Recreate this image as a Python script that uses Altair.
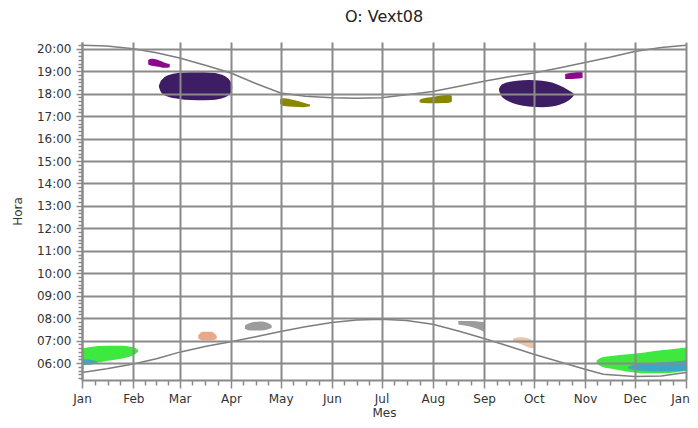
import altair as alt
import pandas as pd

TITLE = "O: Vext08"
MONTHS = ["Jan", "Feb", "Mar", "Apr", "May", "Jun", "Jul", "Aug", "Sep", "Oct", "Nov", "Dec", "Jan"]
MONTH_START = [0, 31, 59, 90, 120, 151, 181, 212, 243, 273, 304, 334, 365]

# sunset / sunrise curves (day of year, hour)
SUNSET_DAY = [0, 15, 31, 45, 59, 75, 90, 105, 120, 135, 151, 166, 181, 196, 212, 228, 243, 258, 273, 289, 304, 319, 334, 350, 365]
SUNSET_HOUR = [20.15, 20.12, 20.0, 19.82, 19.59, 19.25, 18.92, 18.45, 18.03, 17.88, 17.82, 17.8, 17.82, 17.95, 18.1, 18.33, 18.55, 18.75, 18.92, 19.15, 19.39, 19.62, 19.88, 20.05, 20.15]
SUNRISE_DAY = [0, 15, 31, 45, 59, 75, 90, 105, 120, 135, 151, 166, 181, 196, 212, 228, 243, 258, 273, 289, 304, 315, 334, 350, 365]
SUNRISE_HOUR = [5.58, 5.75, 5.96, 6.2, 6.49, 6.75, 6.95, 7.18, 7.41, 7.62, 7.81, 7.92, 7.96, 7.9, 7.73, 7.42, 7.1, 6.75, 6.4, 6.05, 5.73, 5.51, 5.41, 5.43, 5.58]

# blobs: (day, low hour, high hour)
PURPLE_FEB = [(40, 19.3, 19.5), (42, 19.24, 19.55), (46, 19.2, 19.5), (50, 19.15, 19.38), (53, 19.18, 19.32)]
DARK_MAR = [(46.5, 18.3, 18.36), (47.5, 18.1, 18.55), (49, 17.97, 18.68), (52, 17.86, 18.82), (56, 17.79, 18.9), (62, 17.73, 18.94), (70, 17.71, 18.95), (78, 17.72, 18.93), (83, 17.76, 18.88), (86.5, 17.84, 18.78), (89, 17.96, 18.62), (90.3, 18.1, 18.45), (90.8, 18.25, 18.32)]
OLIVE_MAY = [(119.7, 17.55, 17.75), (122, 17.45, 17.8), (128, 17.42, 17.72), (134, 17.4, 17.6), (137.8, 17.44, 17.52)]
OLIVE_AUG = [(204, 17.62, 17.72), (206, 17.58, 17.78), (212, 17.57, 17.85), (218, 17.58, 17.93), (222, 17.6, 17.95), (223.5, 17.65, 17.9)]
DARK_OCT = [(252, 18.15, 18.22), (253, 17.95, 18.35), (255, 17.78, 18.45), (258, 17.65, 18.52), (263, 17.52, 18.57), (270, 17.43, 18.61), (278, 17.4, 18.58), (284, 17.43, 18.5), (289, 17.52, 18.35), (293, 17.65, 18.2), (296, 17.82, 18.06), (297.2, 17.92, 17.98)]
PURPLE_NOV = [(292, 18.65, 18.88), (296, 18.65, 18.93), (300, 18.67, 18.98), (302.5, 18.7, 18.98)]
GREEN_JAN = [(0, 6.05, 6.65), (5, 6.0, 6.72), (15, 6.1, 6.78), (25, 6.22, 6.78), (30, 6.32, 6.72), (33, 6.45, 6.64), (34, 6.52, 6.58)]
GREEN_DEC = [(311, 6.0, 6.12), (314, 5.85, 6.25), (320, 5.75, 6.32), (330, 5.62, 6.4), (340, 5.55, 6.48), (350, 5.55, 6.57), (360, 5.6, 6.65), (365, 5.65, 6.7)]
PEACH_MAR = [(70.3, 7.1, 7.25), (73, 7.02, 7.4), (78, 7.02, 7.4), (81.4, 7.08, 7.22)]
GRAY_APR = [(98.5, 7.52, 7.68), (102, 7.45, 7.8), (108, 7.45, 7.85), (112, 7.5, 7.8), (114.6, 7.56, 7.68)]
GRAY_AUG = [(227.4, 7.72, 7.88), (233, 7.65, 7.88), (238, 7.55, 7.87), (243.5, 7.38, 7.82)]
PEACH_SEP = [(260.6, 6.95, 7.1), (265, 6.85, 7.15), (270, 6.7, 7.1), (273.8, 6.65, 6.88)]
CYAN_JAN = [(0, 5.92, 6.2), (5, 5.93, 6.15), (9, 5.98, 6.08)]
CYAN_DEC = [(330, 5.76, 5.84), (335, 5.68, 5.95), (345, 5.63, 6.0), (355, 5.63, 6.05), (365, 5.67, 6.12)]

BASE_BLOBS = {
    "purple_feb": (PURPLE_FEB, "#8b0a8b"),
    "dark_mar": (DARK_MAR, "#3d1e64"),
    "olive_may": (OLIVE_MAY, "#878700"),
    "olive_aug": (OLIVE_AUG, "#878700"),
    "dark_oct": (DARK_OCT, "#3d1e64"),
    "purple_nov": (PURPLE_NOV, "#8b0a8b"),
    "green_jan": (GREEN_JAN, "#3ee83e"),
    "green_dec": (GREEN_DEC, "#3ee83e"),
    "peach_mar": (PEACH_MAR, "#e9a888"),
    "gray_apr": (GRAY_APR, "#9c9c9c"),
    "gray_aug": (GRAY_AUG, "#9c9c9c"),
    "peach_sep": (PEACH_SEP, "#ecc4a8"),
}
TOP_BLOBS = {
    "cyan_jan": (CYAN_JAN, "#3aa6c8"),
    "cyan_dec": (CYAN_DEC, "#3aa6c8"),
}


def blob_frame(blobs):
    rows = []
    for name, (pts, _c) in blobs.items():
        for d, lo, hi in pts:
            rows.append({"blob": name, "day": d, "lo": lo, "hi": hi})
    return pd.DataFrame(rows)


curves = pd.DataFrame(
    [{"curve": "sunset", "day": d, "hour": h} for d, h in zip(SUNSET_DAY, SUNSET_HOUR)]
    + [{"curve": "sunrise", "day": d, "hour": h} for d, h in zip(SUNRISE_DAY, SUNRISE_HOUR)]
)

# axis ticks
x_ticks = list(MONTH_START)
for i in range(12):
    ln = MONTH_START[i + 1] - MONTH_START[i]
    for k in (1, 2, 3):
        x_ticks.append(MONTH_START[i] + k * ln / 4)
x_ticks = sorted(x_ticks)
y_ticks = [m / 6 for m in range(32, 122)]

ms = "[" + ",".join(str(v) for v in MONTH_START) + "]"
mn = "[" + ",".join("'" + m + "'" for m in MONTHS) + "]"
x_major = f"indexof({ms}, datum.value) >= 0"
x_label = f"indexof({ms}, datum.value) >= 0 ? {mn}[indexof({ms}, datum.value)] : ''"
x_last = f"datum.value == {MONTH_START[-1]}"
y_major = "abs(datum.value - round(datum.value)) < 0.001"
y_label = f"{y_major} ? (round(datum.value) < 10 ? '0' : '') + round(datum.value) + ':00' : ''"

FONT = "DejaVu Sans"
GRID = "#8a8a8a"

x_axis = alt.Axis(
    values=x_ticks, title="Mes", labelExpr=x_label,
    grid=True, gridColor=GRID, gridWidth=2,
    gridOpacity={"condition": {"test": x_major, "value": 1}, "value": 0},
    tickSize={"condition": {"test": x_major, "value": 8}, "value": 5},
    tickColor=GRID, tickWidth=1.5, domainColor=GRID, domainWidth=2,
    labelFont=FONT, labelFontSize=12, labelColor="#333333", labelPadding=5,
    labelOffset={"condition": {"test": x_last, "value": -6}, "value": 0},
    labelFlush=False, labelOverlap=False,
    titleFont=FONT, titleFontSize=12, titleFontWeight="normal", titleColor="#333333", titlePadding=3,
    zindex=1,
)
y_axis = alt.Axis(
    values=y_ticks, title="Hora", labelExpr=y_label,
    grid=True, gridColor=GRID, gridWidth=2,
    gridOpacity={"condition": {"test": y_major, "value": 1}, "value": 0},
    tickSize={"condition": {"test": y_major, "value": 6}, "value": 4},
    tickColor=GRID, tickWidth=1.5, domainColor=GRID, domainWidth=2,
    labelFont=FONT, labelFontSize=12, labelColor="#333333", labelPadding=5,
    labelFlush=False, labelOverlap=False,
    titleFont=FONT, titleFontSize=12, titleFontWeight="normal", titleColor="#333333", titlePadding=12,
    zindex=1,
)
x_scale = alt.Scale(domain=[0, 365], nice=False, zero=False)
y_scale = alt.Scale(domain=[5.25, 20.3], nice=False, zero=False)


def blob_layer(blobs):
    df = blob_frame(blobs)
    names = list(blobs.keys())
    colors = [blobs[n][1] for n in names]
    return alt.Chart(df).mark_area(interpolate="monotone", opacity=1).encode(
        x=alt.X("day:Q", scale=x_scale, axis=x_axis),
        y=alt.Y("lo:Q", scale=y_scale, axis=y_axis, stack=None),
        y2="hi:Q",
        color=alt.Color("blob:N", scale=alt.Scale(domain=names, range=colors), legend=None),
    )


curve_layer = alt.Chart(curves).mark_line(color="#7d7d7d", strokeWidth=1.5).encode(
    x=alt.X("day:Q", scale=x_scale, axis=x_axis),
    y=alt.Y("hour:Q", scale=y_scale, axis=y_axis),
    detail="curve:N",
)

chart = alt.layer(
    blob_layer(BASE_BLOBS),
    blob_layer(TOP_BLOBS),
    curve_layer,
).resolve_scale(color="independent").properties(
    width=604,
    height=338,
    autosize=alt.AutoSizeParams(type="none"),
    padding={"left": 74, "top": 34, "right": 4, "bottom": 40},
    background="white",
    title=alt.Title(TITLE, font=FONT, fontSize=16, fontWeight="normal", color="#222222", offset=14),
).configure_view(stroke=None)

chart.save("out.html", embed_options={"renderer": "svg", "actions": False})
